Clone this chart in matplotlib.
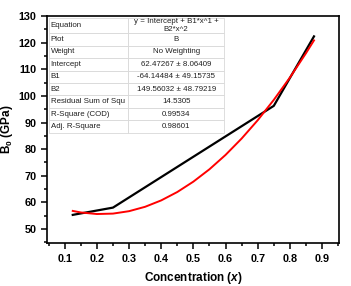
import matplotlib
matplotlib.use("Agg")
from matplotlib import pyplot as plt
from matplotlib.ticker import MultipleLocator

conc = [0.125, 0.25, 0.75, 0.875]
b0 = [55.3, 58.03, 96.25, 122.35]

fit_x = [0.125, 0.15, 0.2, 0.25, 0.3, 0.35, 0.4, 0.45, 0.5, 0.55, 0.6, 0.65, 0.7, 0.75, 0.8, 0.85, 0.875]
fit_y = [56.79, 56.21, 55.62, 55.78, 56.69, 58.34, 60.74, 63.89, 67.79, 72.43, 77.82, 83.97, 90.85, 98.49, 106.87, 116.01, 120.85]

row_labels = ["Equation", "Plot", "Weight", "Intercept", "B1", "B2",
              "Residual Sum of Squ", "R-Square (COD)", "Adj. R-Square"]
row_values = ["y = Intercept + B1*x^1 +\nB2*x^2", "B", "No Weighting",
              "62.47267 \u00b1 8.06409", "-64.14484 \u00b1 49.15735",
              "149.56032 \u00b1 48.79219", "14.5305", "0.99534", "0.98601"]

plt.rcParams["font.family"] = ["Liberation Sans", "DejaVu Sans"]
plt.rcParams["mathtext.fontset"] = "custom"
plt.rcParams["mathtext.bf"] = "Liberation Sans:bold"
plt.rcParams["mathtext.it"] = "Liberation Sans:italic:bold"
plt.rcParams["mathtext.rm"] = "Liberation Sans:bold"

fig = plt.figure(figsize=(3.51, 2.86), dpi=100)
ax = fig.add_axes([0.134, 0.150, 0.832, 0.794])

ax.plot(conc, b0, color="black", lw=1.6, zorder=3)
ax.plot(fit_x, fit_y, color="red", lw=1.4, zorder=4)

ax.set_xlim(0.045, 0.953)
ax.set_ylim(44.7, 130)
ax.xaxis.set_major_locator(MultipleLocator(0.1))
ax.xaxis.set_minor_locator(MultipleLocator(0.05))
ax.yaxis.set_major_locator(MultipleLocator(10))
ax.yaxis.set_minor_locator(MultipleLocator(5))
ax.set_xticks([0.1, 0.2, 0.3, 0.4, 0.5, 0.6, 0.7, 0.8, 0.9])
ax.set_xticklabels(["0.1", "0.2", "0.3", "0.4", "0.5", "0.6", "0.7", "0.8", "0.9"])
ax.tick_params(which="both", direction="out", width=1.1, top=False, right=False)
ax.tick_params(which="major", length=4, labelsize=7.8)
ax.tick_params(which="minor", length=2)
for lab in ax.get_xticklabels() + ax.get_yticklabels():
    lab.set_fontweight("bold")
for s in ax.spines.values():
    s.set_linewidth(1.2)

ax.set_xlabel(r"Concentration ($\mathit{x}$)", fontsize=8.5, fontweight="bold", labelpad=5)
ax.set_ylabel(r"$\mathbf{B_0}$ (GPa)", fontsize=8.5, fontweight="bold", labelpad=3)

tbl = ax.table(cellText=[[a, b] for a, b in zip(row_labels, row_values)],
               colWidths=[79, 96], bbox=[0.007, 0.485, 0.6, 0.506],
               cellLoc="center", zorder=5)
tbl.auto_set_font_size(False)
tbl.set_fontsize(5.7)
for (r, c), cell in tbl.get_celld().items():
    cell.set_edgecolor("#d8d8d8")
    cell.set_linewidth(0.6)
    cell.set_facecolor("white")
    cell.get_text().set_color("#222222")
    if c == 0:
        cell.get_text().set_ha("left")
        cell._loc = "left"
        cell.PAD = 0.02
    if r == 0:
        cell.set_height(cell.get_height() * 1.2)

fig.savefig("out.png", dpi=100)
